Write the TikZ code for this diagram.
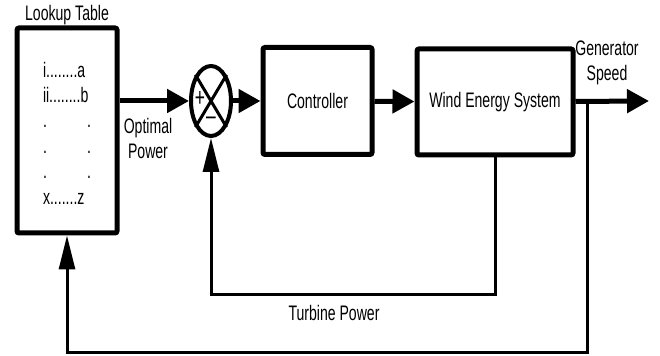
\documentclass[tikz,border=0pt]{standalone}
\usepackage{fontspec}
\setmainfont{Liberation Sans}[FakeStretch=0.67]
\usetikzlibrary{arrows.meta, positioning, shapes.geometric}

\begin{document}
\begin{tikzpicture}[
    x=0.5pt, y=-0.5pt,
    every node/.style={font=\fontsize{10.5}{12.5}\selectfont},
    block/.style={rectangle, draw=black, line width=2.5pt, rounded corners=1pt, align=center},
    junction/.style={ellipse, draw=black, line width=2pt, minimum width=20pt, minimum height=35pt, inner sep=0pt},
    lbl/.style={align=center, inner sep=1pt},
    signlbl/.style={inner sep=0pt, font=\fontsize{13}{13}\selectfont},
    cross/.style={draw=black, line width=1.5pt},
    flow/.style={draw=black, line width=2.5pt, -{Triangle[length=11pt, width=11.5pt]}},
    feedback/.style={draw=black, line width=1.5pt, -{Triangle[length=17pt, width=8pt]}}
]
\useasboundingbox (0,0) rectangle (660,356);

\node[block, minimum width=50pt, minimum height=102.5pt] (lut) at (67,130.5) {};
\node[lbl] (luttitle) at (67,15) {Lookup Table};
\node[lbl, align=left, text width=24pt, font=\fontsize{10.5}{12.7}\selectfont] (entries) at (67,133)
    {i........a\\ii........b\\.\hfill.\\.\hfill.\\.\hfill.\\x.......z};

\node[junction] (sum) at (211,101) {};
\node[signlbl] (plus) at (200,99) {+};
\node[signlbl] (minus) at (211,121) {–};

\node[block, minimum width=54.5pt, minimum height=53.5pt] (ctrl) at (317.5,101) {Controller};
\node[block, minimum width=78pt, minimum height=53pt] (wes) at (495,102) {Wind Energy System};

\coordinate (branch) at (587,101);
\coordinate (out) at (649,101);

\node[lbl] (optimal) at (148,139) {Optimal\\Power};
\node[lbl] (speed) at (607,63) {Generator\\Speed};
\node[lbl] (turbine) at (334,313) {Turbine Power};

\draw[cross] (sum.north west) -- (sum.south east);
\draw[cross] (sum.north east) -- (sum.south west);

\draw[flow] (lut.east |- sum.west) -- (sum.west);
\draw[flow] (sum) -- (ctrl);
\draw[flow] (ctrl) -- (wes);
\draw[flow] (wes) -- (out);

\draw[feedback] (wes.south) -- ++(0,137) -| (sum.south);
\draw[feedback] (branch) -- ++(0,252) -| (lut.south);
\end{tikzpicture}
\end{document}
